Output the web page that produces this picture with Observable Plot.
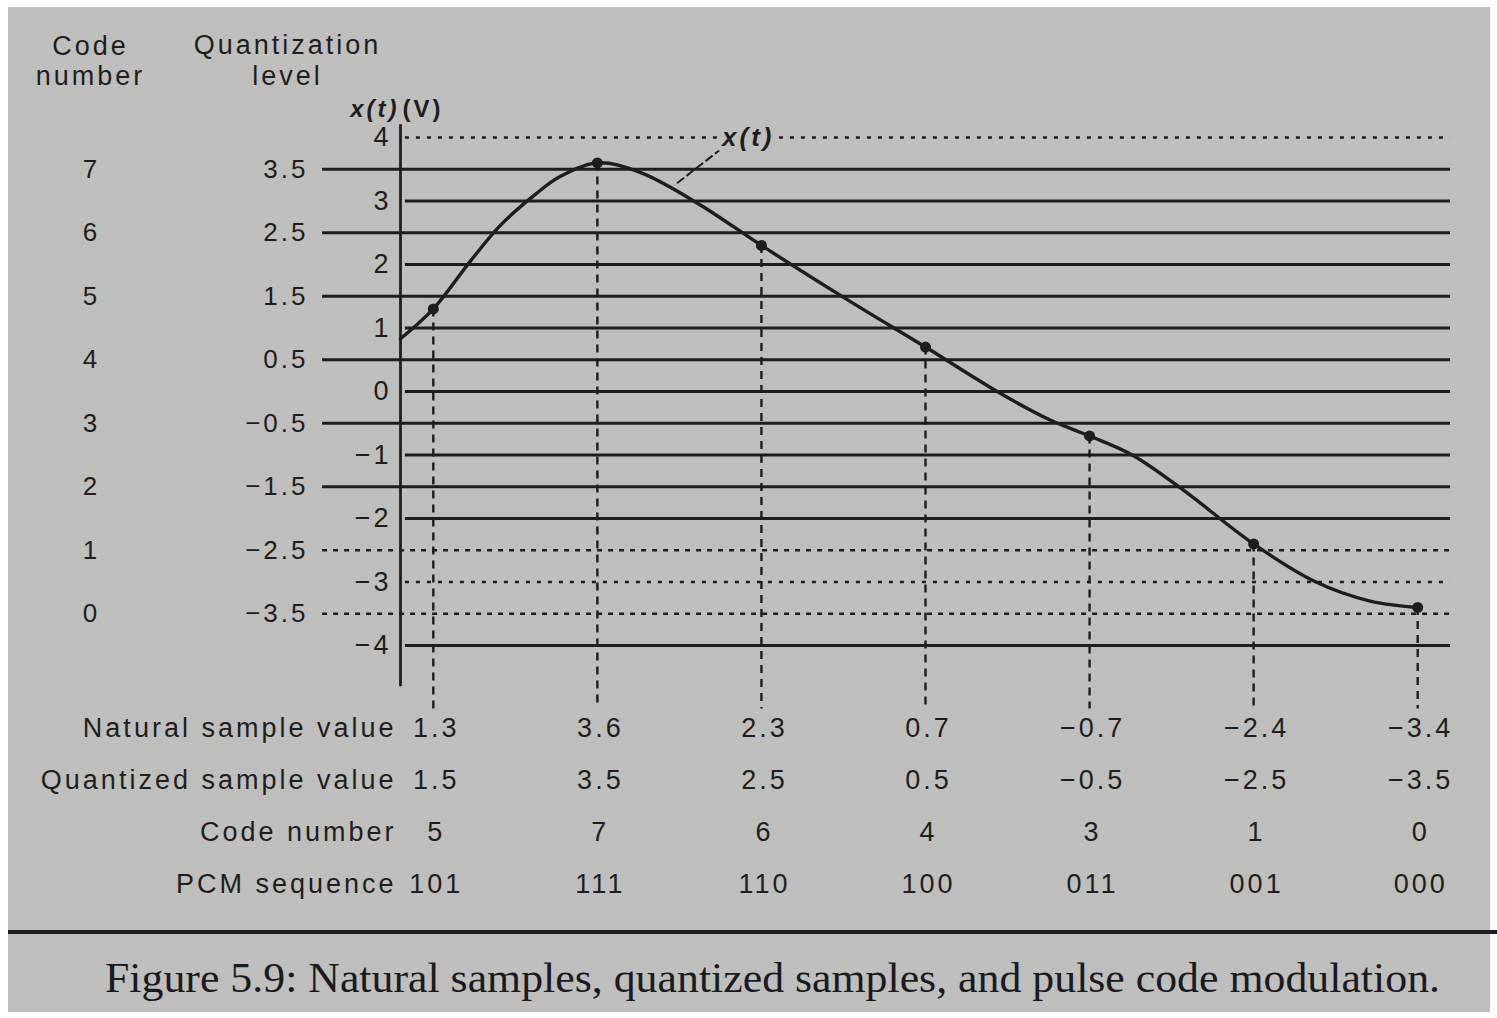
<!DOCTYPE html>
<html>
<head>
<meta charset="utf-8">
<script src="https://cdn.jsdelivr.net/npm/d3@7"></script>
<script src="https://cdn.jsdelivr.net/npm/@observablehq/plot@0.6"></script>
<style>
html, body { margin: 0; padding: 0; background: #fff; }
#page { position: relative; width: 1497px; height: 1018px; background: #fff; overflow: hidden; }
#paper { position: absolute; left: 8px; top: 7px; width: 1482px; height: 1005px; background: #bebebc; }
#main { position: absolute; left: 0; top: 0; }
#table { position: absolute; left: 0; top: 700px; }
#rule { position: absolute; left: 8px; top: 930px; width: 1489px; height: 4px; background: #1c1c24; }
#caption { position: absolute; left: 0; top: 940px; }
</style>
</head>
<body>
<div id="page">
  <div id="paper"></div>
  <div id="main"></div>
  <div id="table"></div>
  <div id="rule"></div>
  <svg id="caption" width="1497" height="72">
    <text x="105" y="52" textLength="1335" lengthAdjust="spacingAndGlyphs"
      font-family="'Liberation Serif', 'Times New Roman', serif" font-size="42" fill="#1a1a22">Figure 5.9: Natural samples, quantized samples, and pulse code modulation.</text>
  </svg>
</div>
<script>
// ---- data ----
const sampleIndex = [1, 2, 3, 4, 5, 6, 7];
const naturalValues = [1.3, 3.6, 2.3, 0.7, -0.7, -2.4, -3.4];
const quantizedValues = [1.5, 3.5, 2.5, 0.5, -0.5, -2.5, -3.5];
const codeNumbers = [5, 7, 6, 4, 3, 1, 0];
const pcmSequences = ["101", "111", "110", "100", "011", "001", "000"];
const quantLevels = [3.5, 2.5, 1.5, 0.5, -0.5, -1.5, -2.5, -3.5];
const levelCodes = [7, 6, 5, 4, 3, 2, 1, 0];
const voltTicks = [4, 3, 2, 1, 0, -1, -2, -3, -4];
const curveT = [0.8, 1, 1.225, 1.41, 1.62, 1.77, 2, 2.26, 2.62, 3, 3.54, 4, 4.45, 4.76, 5, 5.26, 5.57, 6, 6.38, 6.71, 7];
const curveV = [0.83, 1.3, 2.05, 2.62, 3.1, 3.38, 3.6, 3.45, 2.95, 2.3, 1.42, 0.7, -0.02, -0.45, -0.7, -1.0, -1.55, -2.4, -3.0, -3.3, -3.4];
const rowLabels = ["Natural sample value", "Quantized sample value", "Code number", "PCM sequence"];

// ---- helpers ----
const ink = "#1e1e1e";
const paper = "#bebebc";
const minus = (s) => s.replace("-", "\u2212");
const fmtInt = (v) => minus(String(v));
const fmt1 = (v) => minus(v.toFixed(1));
const dottedSet = new Set([4, -2.5, -3, -3.5]);

const samples = sampleIndex.map((t, i) => ({t, natural: naturalValues[i], quant: quantizedValues[i], code: codeNumbers[i], pcm: pcmSequences[i]}));
const curvePts = curveT.map((t, i) => ({t, v: curveV[i]}));

const font = "'Liberation Sans', Arial, Helvetica, sans-serif";

const main = Plot.plot({
  width: 1497,
  height: 715,
  marginLeft: 400,
  marginRight: 47,
  marginTop: 105.25,
  marginBottom: 6.5,
  x: {domain: [0.8, 7.2], axis: null},
  y: {domain: [-5, 4.5], axis: null},
  style: {background: "transparent", fontFamily: font, fontSize: "26px", color: ink, letterSpacing: "3px"},
  marks: [
    // quantization level lines (half values)
    Plot.ruleY(quantLevels.filter(d => !dottedSet.has(d)), {y: d => d, x1: 0.325, x2: 7.2, stroke: ink, strokeWidth: 2.8}),
    Plot.ruleY(quantLevels.filter(d => dottedSet.has(d)), {y: d => d, x1: 0.325, x2: 7.2, stroke: ink, strokeWidth: 2.5, strokeDasharray: "5,6"}),
    // integer lines
    Plot.ruleY(voltTicks.filter(d => !dottedSet.has(d)), {y: d => d, x1: 0.83, x2: 7.2, stroke: ink, strokeWidth: 2.8, strokeDasharray: d => d === -4 ? "16,4" : null}),
    Plot.ruleY(voltTicks.filter(d => dottedSet.has(d)), {y: d => d, x1: 0.83, x2: 7.2, stroke: ink, strokeWidth: 2.5, strokeDasharray: "4,7"}),
    // vertical axis
    Plot.ruleX([0.8], {y1: -4.65, y2: 4.2, stroke: ink, strokeWidth: 2.8}),
    // sample verticals
    Plot.ruleX(samples, {x: "t", y1: "natural", y2: -5, stroke: ink, strokeWidth: 2.4, strokeDasharray: "8,6"}),
    // signal curve
    Plot.line(curvePts, {x: "t", y: "v", curve: "catmull-rom", stroke: ink, strokeWidth: 3.4}),
    Plot.dot(samples, {x: "t", y: "natural", r: 5.5, fill: ink}),
    // x(t) label with leader
    Plot.link([0], {x1: 2.76, y1: 3.83, x2: 2.47, y2: 3.25, stroke: ink, strokeWidth: 2, strokeDasharray: "9,3"}),
    Plot.text(["x(t)"], {x: 2.92, y: 4.0, fontStyle: "italic", fontWeight: "bold", fontSize: 26, fill: ink, stroke: paper, strokeWidth: 10, paintOrder: "stroke"}),
    // y tick labels (integers)
    Plot.text(voltTicks, {y: d => d, text: fmtInt, frameAnchor: "left", dx: -9, textAnchor: "end", fontSize: 27, fill: ink}),
    // quantization level labels
    Plot.text(quantLevels, {y: d => d, text: fmt1, frameAnchor: "left", dx: -92, textAnchor: "end", fontSize: 26, fill: ink}),
    // code number labels
    Plot.text(quantLevels, {y: d => d, text: (d, i) => String(levelCodes[i]), frameAnchor: "left", dx: -309, textAnchor: "middle", fontSize: 26, fill: ink}),
    // headers
    Plot.text(["Code"], {frameAnchor: "top-left", dx: -310, dy: -70, textAnchor: "middle", fontSize: 27, fill: ink}),
    Plot.text(["number"], {frameAnchor: "top-left", dx: -310, dy: -40, textAnchor: "middle", fontSize: 27, fill: ink}),
    Plot.text(["Quantization"], {frameAnchor: "top-left", dx: -113, dy: -71, textAnchor: "middle", fontSize: 27, fill: ink}),
    Plot.text(["level"], {frameAnchor: "top-left", dx: -113, dy: -40, textAnchor: "middle", fontSize: 27, fill: ink}),
    Plot.text(["x(t)"], {frameAnchor: "top-left", dx: -1, dy: -6, textAnchor: "end", fontStyle: "italic", fontWeight: "bold", fontSize: 24, fill: ink}),
    Plot.text(["(V)"], {frameAnchor: "top-left", dx: 2, dy: -6, textAnchor: "start", fontWeight: "bold", fontSize: 24, fill: ink})
  ]
});
document.getElementById("main").appendChild(main);

const table = Plot.plot({
  width: 1497,
  height: 220,
  marginLeft: 400,
  marginRight: 47,
  marginTop: 27,
  marginBottom: 35,
  x: {domain: [0.8, 7.2], axis: null},
  y: {domain: rowLabels, type: "point", padding: 0, axis: null},
  style: {background: "transparent", fontFamily: font, fontSize: "27px", color: ink, letterSpacing: "3px"},
  marks: [
    Plot.text(rowLabels, {y: d => d, text: d => d, frameAnchor: "left", dx: -4, textAnchor: "end", fill: ink, fontSize: 27}),
    Plot.text(samples, {x: "t", y: () => rowLabels[0], text: d => fmt1(d.natural), fill: ink, dx: 3}),
    Plot.text(samples, {x: "t", y: () => rowLabels[1], text: d => fmt1(d.quant), fill: ink, dx: 3}),
    Plot.text(samples, {x: "t", y: () => rowLabels[2], text: d => String(d.code), fill: ink, dx: 3}),
    Plot.text(samples, {x: "t", y: () => rowLabels[3], text: d => d.pcm, fill: ink, dx: 3})
  ]
});
document.getElementById("table").appendChild(table);
</script>
</body>
</html>
